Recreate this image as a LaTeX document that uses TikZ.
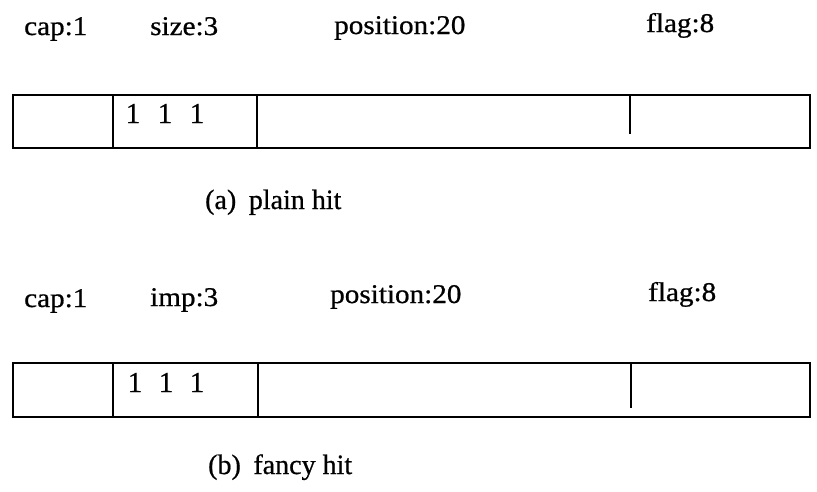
\documentclass[tikz,border=0pt]{standalone}
\usepackage{fontspec}
\setmainfont{Liberation Serif}
% slightly heavier serif, like a printed page
\newfontfamily\printfont{Liberation Serif}[FakeBold=0.7]
\begin{document}
\begin{tikzpicture}[x=1pt,y=-1pt,
  bar/.style={line width=1.6pt},
  field/.style={anchor=base west,inner sep=0pt,font=\printfont\fontsize{27}{27}\selectfont},
  bit/.style={anchor=base,inner sep=0pt,font=\printfont\fontsize{29}{29}\selectfont},
  caption/.style={anchor=base west,inner sep=0pt,font=\printfont\fontsize{28}{28}\selectfont}]
\useasboundingbox (0,0) rectangle (817,491);

% ---- (a) plain hit ----
\node[field] (capA)  at (24,35)  {\scalebox{1.08}[1]{cap:1}};
\node[field] (sizeA) at (150,35) {\scalebox{1.08}[1]{size:3}};
\node[field] (posA)  at (334,34) {\scalebox{1.08}[1]{position:20}};
\node[field] (flagA) at (646,32) {\scalebox{1.08}[1]{flag:8}};

\draw[bar] (13,95) rectangle (810,148);
\draw[bar] (113,95) -- (113,148);
\draw[bar] (257,95) -- (257,148);
\draw[bar] (630,95) -- (630,134);

\node[bit] (a1) at (133,123) {1};
\node[bit] (a2) at (165,123) {1};
\node[bit] (a3) at (197,123) {1};

\node[caption] (capa) at (205,209) {(a)\hspace{0.45em}plain hit};

% ---- (b) fancy hit ----
\node[field] (capB)  at (24,307)  {\scalebox{1.08}[1]{cap:1}};
\node[field] (impB)  at (150,306) {\scalebox{1.08}[1]{imp:3}};
\node[field] (posB)  at (330,303) {\scalebox{1.08}[1]{position:20}};
\node[field] (flagB) at (648,301) {\scalebox{1.08}[1]{flag:8}};

\draw[bar] (13,363) rectangle (810,417);
\draw[bar] (113,363) -- (113,417);
\draw[bar] (258,363) -- (258,417);
\draw[bar] (631,363) -- (631,408);

\node[bit] (b1) at (135,392) {1};
\node[bit] (b2) at (166,392) {1};
\node[bit] (b3) at (197,392) {1};

\node[caption] (capb) at (208,474) {(b)\hspace{0.45em}fancy hit};
\end{tikzpicture}
\end{document}
